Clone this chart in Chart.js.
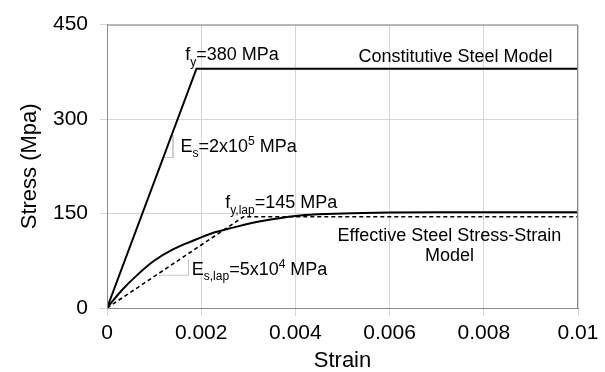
<!DOCTYPE html>
<html>
<head>
<meta charset="utf-8">
<script src="https://cdn.jsdelivr.net/npm/chart.js@4/dist/chart.umd.min.js"></script>
<style>
  html, body { margin: 0; padding: 0; background: #fff; }
  #wrap { width: 605px; height: 372px; }
</style>
</head>
<body>
<div id="wrap"><canvas id="chart"></canvas></div>
<script>
// 데이터 — 그림에서 읽은 값
const xTicks = [0, 0.002, 0.004, 0.006, 0.008, 0.01];
const xTickLabels = ['0', '0.002', '0.004', '0.006', '0.008', '0.01'];
const yTicks = [0, 150, 300, 450];

// 구성 강재 모델 (bilinear)
const constStrain = [0, 0.0019, 0.01];
const constStress = [0, 380, 380];

// 유효 강재 응력-변형률 곡선
const effStrain = [0, 0.0003, 0.00065, 0.001, 0.0014, 0.0018, 0.0022, 0.0027, 0.0032, 0.0037, 0.0042, 0.005, 0.006, 0.007, 0.01];
const effStress = [0, 27, 53, 75, 93, 106, 118, 128, 137, 143, 147.5, 150, 151.5, 152, 152];

// 겹침이음 등가 bilinear (점선)
const lapStrain = [0, 0.0029, 0.01];
const lapStress = [0, 145, 145];

// 기울기 표시용 작은 꺾쇠
const esMarkStrain = [0.0014, 0.0014, 0.00118];
const esMarkStress = [274, 239, 239];
const lapMarkStrain = [0.00173, 0.00173, 0.0011];
const lapMarkStress = [78, 52, 52];

const FONT = "'Liberation Sans', Arial, sans-serif";

function pts(xs, ys) {
  return xs.map((x, i) => ({ x, y: ys[i] }));
}

// 주석 (위치는 데이터 단위)
const notes = [
  { x: 0.00166, y: 393, align: 'left', runs: [{ t: 'f' }, { t: 'y', sub: true }, { t: '=380 MPa' }] },
  { x: 0.00534, y: 390, align: 'left', runs: [{ t: 'Constitutive Steel Model' }] },
  { x: 0.00156, y: 248, align: 'left', runs: [{ t: 'E' }, { t: 's', sub: true }, { t: '=2x10' }, { t: '5', sup: true }, { t: ' MPa' }] },
  { x: 0.00251, y: 158, align: 'left', runs: [{ t: 'f' }, { t: 'y,lap', sub: true }, { t: '=145 MPa' }] },
  { x: 0.0018, y: 52, align: 'left', runs: [{ t: 'E' }, { t: 's,lap', sub: true }, { t: '=5x10' }, { t: '4', sup: true }, { t: ' MPa' }] },
  { x: 0.00727, y: 106.7, align: 'center', runs: [{ t: 'Effective Steel Stress-Strain' }] },
  { x: 0.00727, y: 74.4, align: 'center', runs: [{ t: 'Model' }] },
];

function drawRich(ctx, runs, x, y, size, align) {
  const small = Math.round(size * 0.68);
  const fontOf = r => `${(r.sub || r.sup) ? small : size}px ${FONT}`;
  let w = 0;
  runs.forEach(r => { ctx.font = fontOf(r); w += ctx.measureText(r.t).width; });
  let cx = align === 'center' ? x - w / 2 : x;
  runs.forEach(r => {
    ctx.font = fontOf(r);
    let dy = 0;
    if (r.sub) dy = size * 0.28;
    if (r.sup) dy = -size * 0.38;
    ctx.fillText(r.t, cx, y + dy);
    cx += ctx.measureText(r.t).width;
  });
}

const notePlugin = {
  id: 'notes',
  afterDatasetsDraw(chart) {
    const { ctx, scales: { x, y }, chartArea } = chart;
    ctx.save();
    // 플롯 테두리
    ctx.strokeStyle = '#8a8a8a';
    ctx.lineWidth = 1;
    ctx.strokeRect(chartArea.left + 0.5, chartArea.top + 0.5,
      chartArea.right - chartArea.left - 1, chartArea.bottom - chartArea.top);
    ctx.fillStyle = '#000';
    ctx.textBaseline = 'alphabetic';
    ctx.textAlign = 'left';
    notes.forEach(n => {
      drawRich(ctx, n.runs, x.getPixelForValue(n.x), y.getPixelForValue(n.y), 18, n.align);
    });
    ctx.restore();
  },
};

new Chart(document.getElementById('chart'), {
  type: 'scatter',
  data: {
    datasets: [
      {
        data: pts(constStrain, constStress),
        showLine: true,
        borderColor: '#000',
        borderWidth: 2,
        pointRadius: 0,
      },
      {
        data: pts(effStrain, effStress),
        showLine: true,
        borderColor: '#000',
        borderWidth: 2,
        pointRadius: 0,
        cubicInterpolationMode: 'monotone',
      },
      {
        data: pts(lapStrain, lapStress),
        showLine: true,
        borderColor: '#000',
        borderWidth: 1.6,
        borderDash: [4, 3],
        pointRadius: 0,
      },
      {
        data: pts(esMarkStrain, esMarkStress),
        showLine: true,
        borderColor: '#c8c8c8',
        borderWidth: 1,
        pointRadius: 0,
      },
      {
        data: pts(lapMarkStrain, lapMarkStress),
        showLine: true,
        borderColor: '#c8c8c8',
        borderWidth: 1,
        pointRadius: 0,
      },
    ],
  },
  options: {
    responsive: true,
    maintainAspectRatio: false,
    animation: false,
    layout: { padding: { left: 0, top: 20, right: 27, bottom: 0 } },
    plugins: {
      legend: { display: false },
      tooltip: { enabled: false },
    },
    scales: {
      x: {
        type: 'linear',
        min: 0,
        max: 0.01,
        afterFit: s => { s.height = 64; },
        afterBuildTicks: s => { s.ticks = xTicks.map(v => ({ value: v })); },
        ticks: {
          color: '#000',
          font: { family: FONT, size: 21 },
          padding: 5,
          maxRotation: 0,
          callback: (v, i) => xTickLabels[i],
        },
        grid: { color: '#d6d6d6', lineWidth: 1, tickLength: 8 },
        border: { color: '#8a8a8a' },
        title: {
          display: true,
          text: 'Strain',
          color: '#000',
          font: { family: FONT, size: 22, lineHeight: 1 },
          padding: { top: 0, bottom: 0 },
        },
      },
      y: {
        type: 'linear',
        min: 0,
        max: 450,
        afterFit: s => { s.width = 107; },
        afterBuildTicks: s => { s.ticks = yTicks.map(v => ({ value: v })); },
        ticks: {
          color: '#000',
          font: { family: FONT, size: 21 },
          padding: 12,
        },
        grid: { color: '#d6d6d6', lineWidth: 1, tickLength: 7 },
        border: { color: '#8a8a8a' },
        title: {
          display: true,
          text: 'Stress (Mpa)',
          color: '#000',
          font: { family: FONT, size: 22, lineHeight: 1 },
          padding: { top: 19, bottom: 0 },
        },
      },
    },
  },
  plugins: [notePlugin],
});
</script>
</body>
</html>
